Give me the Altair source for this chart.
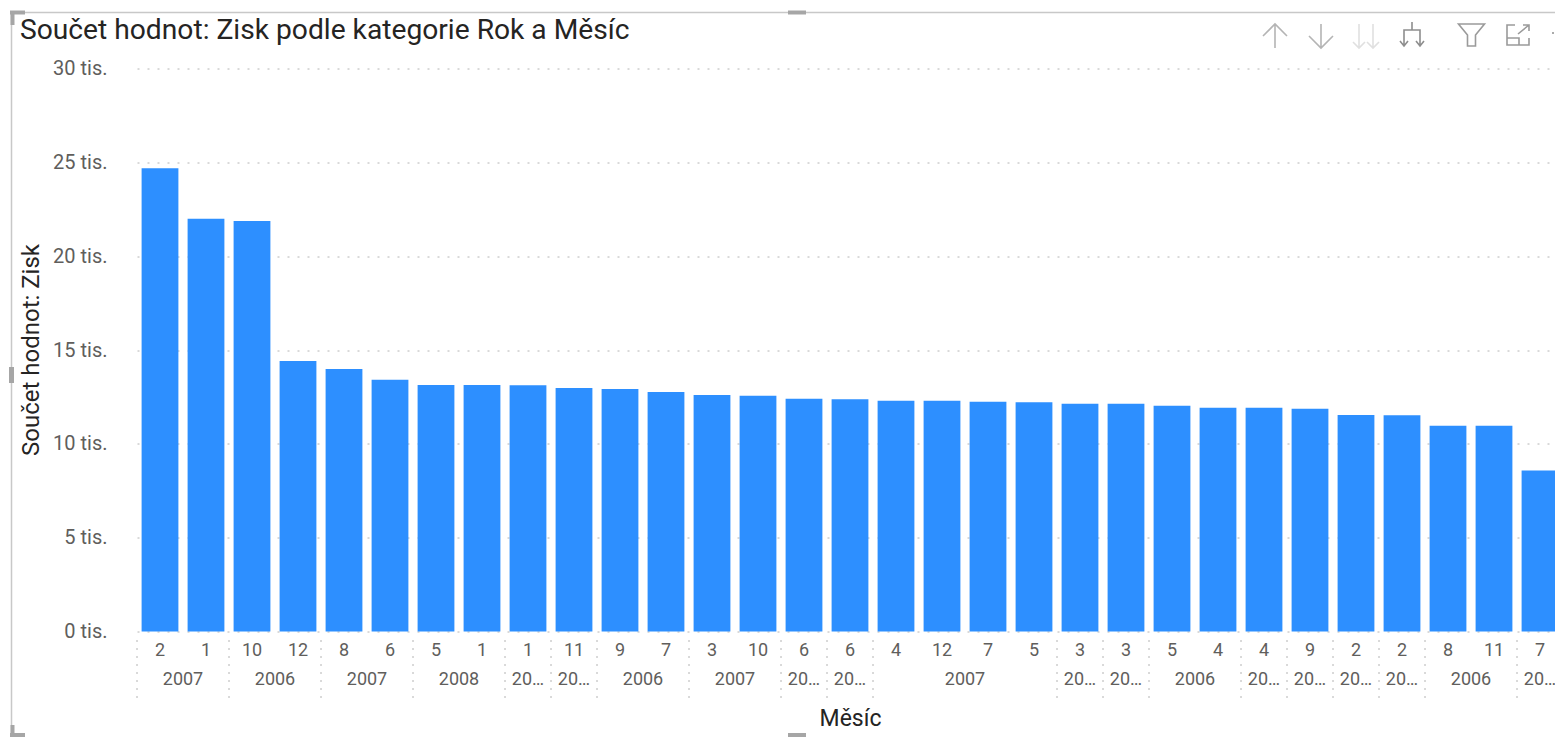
import altair as alt
import pandas as pd

months = [2, 1, 10, 12, 8, 6, 5, 1, 1, 11, 9, 7, 3, 10, 6, 6, 4, 12, 7, 5, 3, 3, 5, 4, 4, 9, 2, 2, 8, 11, 7]
values = [24680, 22000, 21880, 14420, 13990, 13410, 13140, 13130, 13120, 12980, 12920, 12760, 12600, 12560,
          12400, 12380, 12300, 12300, 12240, 12220, 12130, 12130, 12030, 11920, 11920, 11870, 11530, 11520,
          10960, 10960, 8580]
group_labels = ["2007", "2006", "2007", "2008", "20…", "20…", "2006", "2007", "20…", "20…", "2007",
                "20…", "20…", "2006", "20…", "20…", "20…", "20…", "2006", "20…"]
group_sizes = [2, 2, 2, 2, 1, 1, 2, 2, 1, 1, 4, 1, 1, 2, 1, 1, 1, 1, 2, 1]
y_ticks = [0, 5000, 10000, 15000, 20000, 25000, 30000]

TITLE = "Součet hodnot: Zisk podle kategorie Rok a Měsíc"
FONT = "Roboto"
OX, OY = 137, 68.5  # plot origin on the page
PAGE_BOTTOM = 737
PAGE_RIGHT = 1555   # the svg must not pass this or the photo of the page shrinks


def px(x):
    return alt.value(x - OX)


def py(y):
    return alt.value(y - OY)


keys = [f"{m}|{i}" for i, m in enumerate(months)]
bars = pd.DataFrame({"key": keys, "Zisk": values})

rows, start = [], 0
for lab, n in zip(group_labels, group_sizes):
    rows.append({"label": lab, "first": keys[start], "anchor": keys[start + (n - 1) // 2], "even": n % 2 == 0})
    start += n
groups = pd.DataFrame(rows)
sep_df = groups.assign(key=groups["first"])
text_df = groups.assign(key=groups["anchor"])

W, H = PAGE_RIGHT - OX, 563
x_scale = alt.Scale(domain=keys, range=[0, 1426], paddingInner=0, paddingOuter=0)

bar_layer = alt.Chart(bars).mark_bar(
    width=alt.RelativeBandSize(band=0.8), color="#2D8FFF"
).encode(
    x=alt.X(
        "key:N", scale=x_scale, sort=None,
        axis=alt.Axis(
            title="Měsíc", titleFont=FONT, titleFontSize=23, titleFontWeight="normal", titleColor="#252423",
            titleX=713, titleY=87, titleBaseline="middle",
            labelExpr="split(datum.label,'|')[0]", labelAngle=0, labelFont=FONT, labelFontSize=18,
            labelColor="#605E5C", labelPadding=10, ticks=False, domain=False, grid=False, labelOverlap=False,
            labelBaseline="top",
        ),
    ),
    y=alt.Y(
        "Zisk:Q", scale=alt.Scale(domain=[0, 30000], nice=False),
        axis=alt.Axis(
            title="Součet hodnot: Zisk", titleFont=FONT, titleFontSize=24, titleFontWeight="normal",
            titleColor="#252423", titleX=-94, titleY=281,
            values=y_ticks, labelExpr="datum.value/1000 + ' tis.'", labelFont=FONT, labelFontSize=20,
            labelColor="#605E5C", labelPadding=30, ticks=False, domain=False,
            grid=True, gridDash=[2, 8], gridColor="#B4B4B4", gridWidth=1,
        ),
    ),
)

sep_layer = alt.Chart(sep_df).mark_rule(color="#B4B4B4", strokeDash=[2, 6], strokeWidth=1).encode(
    x=alt.X("key:N", scale=x_scale, bandPosition=0),
    y=py(640),
    y2=py(698),
)


def year_text(df, band):
    return alt.Chart(df).mark_text(font=FONT, fontSize=18, color="#605E5C", baseline="middle").encode(
        x=alt.X("key:N", scale=x_scale, bandPosition=band),
        y=py(680),
        text="label:N",
    )


even_layer = year_text(text_df[text_df["even"]], 1)
odd_layer = year_text(text_df[~text_df["even"]], 0.5)

title_layer = alt.Chart(pd.DataFrame({"t": [TITLE]})).mark_text(
    font=FONT, fontSize=28.2, color="#252423", align="left", baseline="middle"
).encode(x=px(20), y=py(31), text="t:N")

FRAME = "#C8C8C8"
HANDLE = "#A6A6A6"
one = pd.DataFrame({"a": [0]})


def hline(x1, x2, y, color, w):
    return alt.Chart(one).mark_rule(color=color, strokeWidth=w).encode(x=px(x1), x2=px(x2), y=py(y))


def vline(x, y1, y2, color, w):
    return alt.Chart(one).mark_rule(color=color, strokeWidth=w).encode(x=px(x), y=py(y1), y2=py(y2))


chrome = [
    hline(11, PAGE_RIGHT, 12.5, FRAME, 1.5),
    vline(11.5, 12, PAGE_BOTTOM, FRAME, 1.5),
    hline(10, 25, 12.5, HANDLE, 4),
    vline(12.5, 11, 25, HANDLE, 4),
    hline(10, 25, PAGE_BOTTOM - 2, HANDLE, 4),
    vline(12.5, PAGE_BOTTOM - 12, PAGE_BOTTOM, HANDLE, 4),
    hline(788, 806, 12.5, HANDLE, 4),
    hline(788, 806, PAGE_BOTTOM - 2, HANDLE, 4),
    vline(11.5, 367, 383, HANDLE, 5),
]

ICON = "#B4B4B4"
icons = [
    (1275, 36, "M0,12L0,-12M-12,0L0,-12L12,0", ICON),
    (1321, 36, "M0,-12L0,12M-12,0L0,12L12,0", ICON),
    (1366, 36, "M-7,-12L-7,12M-13,6L-7,12L-1,6M7,-12L7,12M1,6L7,12L13,6", "#E0E0E0"),
    (1412, 35, "M0,-13L0,-5M-8,11L-8,-5L8,-5L8,11M-12,6L-8,11L-4,6M4,6L8,11L12,6", "#8E8E8E"),
    (1471.5, 35, "M-13,-11L13,-11L4,0L4,11L-4,11L-4,0Z", "#9A9A9A"),
    (1518, 35, "M-3,-10L-11,-10L-11,10L11,10L11,3M-11,3L1,3L1,10M0,-1L11,-10M5,-10L11,-10L11,-4", "#9A9A9A"),
    (1553, 33, "M-1,0L1,0", "#8E8E8E"),
]
icon_layers = [
    alt.Chart(one).mark_point(shape=path, size=4, stroke=col, strokeWidth=1.6, fill=None, opacity=1).encode(
        x=px(x), y=py(y)
    )
    for x, y, path, col in icons
]

chart = alt.layer(
    bar_layer, sep_layer, even_layer, odd_layer, title_layer, *chrome, *icon_layers
).resolve_scale(x="shared").properties(
    width=W, height=H, autosize=alt.AutoSizeParams(type="none"),
    padding={"left": OX - 8, "top": OY - 8, "right": 0, "bottom": PAGE_BOTTOM - OY - H},
    background="white",
).configure_view(stroke=None)

chart.save("out.html", embed_options={"renderer": "svg", "actions": False})
